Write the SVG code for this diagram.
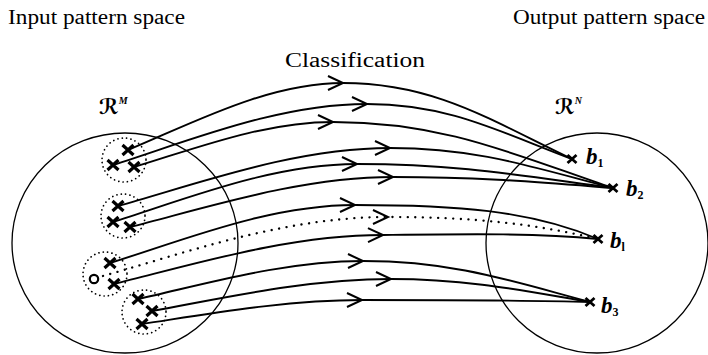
<svg xmlns="http://www.w3.org/2000/svg" xmlns:xlink="http://www.w3.org/1999/xlink" width="708" height="355" viewBox="0 0 708 355">
<defs>
<style>
.lbl{font-family:"Liberation Serif","Times New Roman",serif;font-size:20px;fill:#000}
.space{fill:none;stroke:#000;stroke-width:1.3}
.cluster{fill:none;stroke:#000;stroke-width:1.7;stroke-dasharray:0.1 4.3;stroke-linecap:round}
.conn{fill:none;stroke:#000;stroke-width:1.9;marker-mid:url(#chev)}
.dotted{stroke-dasharray:0.1 7.5;stroke-width:2.3;stroke-linecap:round}
.star{fill:none;stroke:#000;stroke-width:3.2}
.tgt{fill:none;stroke:#000;stroke-width:2.8}
.bl{font-family:"Liberation Serif","Times New Roman",serif;font-weight:bold;font-style:italic;font-size:23px;fill:#000}
.sub{font-size:12px;font-style:normal}
.scr{font-family:"DejaVu Serif","DejaVu Sans",serif;font-size:21px;font-weight:bold;fill:#000}
.sup{font-family:"Liberation Serif",serif;font-size:10px;font-weight:bold;font-style:italic}
</style>
<marker id="chev" markerUnits="userSpaceOnUse" viewBox="-17 -9 19 18" markerWidth="19" markerHeight="18" refX="0" refY="0" orient="auto" overflow="visible">
<path d="M-15,-7 L0,0 L-15,7" fill="none" stroke="#000" stroke-width="2"/>
</marker>
<path id="x" d="M-5.5,-5 L5.5,5 M-5.5,5 L5.5,-5"/>
<path id="t" d="M-4.5,-4 L4.5,4 M-4.5,4 L4.5,-4"/>
</defs>

<g id="titles">
<text class="lbl" x="8" y="24" textLength="177" lengthAdjust="spacingAndGlyphs">Input pattern space</text>
<text class="lbl" x="513" y="24" textLength="192" lengthAdjust="spacingAndGlyphs">Output pattern space</text>
<text class="lbl" x="285" y="67" textLength="140" lengthAdjust="spacingAndGlyphs">Classification</text>
</g>

<g id="input-space">
<ellipse class="space" cx="125" cy="243" rx="113" ry="110"/>
<text class="scr" x="99" y="114">ℛ<tspan class="sup" dy="-10">M</tspan></text>
</g>

<g id="output-space">
<ellipse class="space" cx="597" cy="243" rx="111" ry="110"/>
<text class="scr" x="555" y="114">ℛ<tspan class="sup" dy="-10">N</tspan></text>
</g>

<g id="cluster-1">
<circle class="cluster" cx="124" cy="160" r="22"/>
<use xlink:href="#x" class="star" x="128" y="150"/>
<use xlink:href="#x" class="star" x="113" y="165"/>
<use xlink:href="#x" class="star" x="134" y="167"/>
</g>
<g id="cluster-2">
<circle class="cluster" cx="123" cy="216" r="22"/>
<use xlink:href="#x" class="star" x="118" y="206"/>
<use xlink:href="#x" class="star" x="113" y="222"/>
<use xlink:href="#x" class="star" x="130" y="227"/>
</g>
<g id="cluster-3">
<circle class="cluster" cx="105" cy="274" r="22"/>
<use xlink:href="#x" class="star" x="110" y="263"/>
<circle cx="94" cy="279" r="4.2" fill="none" stroke="#000" stroke-width="2.2"/>
<use xlink:href="#x" class="star" x="114" y="284"/>
</g>
<g id="cluster-4">
<circle class="cluster" cx="144" cy="312" r="22"/>
<use xlink:href="#x" class="star" x="138" y="299"/>
<use xlink:href="#x" class="star" x="152" y="311"/>
<use xlink:href="#x" class="star" x="142" y="324"/>
</g>

<g id="connectors">
<path class="conn" d="M128,150 C193,123 268,83 343,83 C435,83 492,121 572,159"/>
<path class="conn" d="M113,165 C189,141 278,104 367,104 C449,104 500,132 572,159"/>
<path class="conn" d="M134,167 C194,149 263,122 333,122 C445,122 515,155 613,188"/>
<path class="conn" d="M118,206 C200,183 295,148 390,148 C479,148 535,168 613,188"/>
<path class="conn" d="M113,222 C186,199 272,164 357,164 C459,164 523,176 613,188"/>
<path class="conn" d="M130,227 C209,207 301,177 393,177 C481,177 536,182 613,188"/>
<path class="conn" d="M110,263 C184,240 269,205 355,205 C455,205 530,210 598,239"/>
<path class="conn dotted" d="M103,276 C188,252 285,217 388,217 C475,217 535,224 598,239"/>
<path class="conn" d="M114,284 C195,264 289,235 383,235 C470,234 535,233 598,239"/>
<path class="conn" d="M138,299 C206,284 284,261 363,261 C454,261 511,281 590,302"/>
<path class="conn" d="M152,311 C224,298 307,279 391,279 C471,279 530,292 590,302"/>
<path class="conn" d="M142,324 C208,314 285,300 362,300 C453,300 522,300 590,302"/>
</g>

<g id="b1">
<use xlink:href="#t" class="tgt" x="572" y="159"/>
<text class="bl" x="586" y="164">b<tspan class="sub" dy="3">1</tspan></text>
</g>
<g id="b2">
<use xlink:href="#t" class="tgt" x="613" y="188"/>
<text class="bl" x="626" y="196">b<tspan class="sub" dy="3">2</tspan></text>
</g>
<g id="bl">
<use xlink:href="#t" class="tgt" x="598" y="239"/>
<text class="bl" x="610" y="248">b<tspan class="sub" dy="3" font-style="italic">l</tspan></text>
</g>
<g id="b3">
<use xlink:href="#t" class="tgt" x="590" y="302"/>
<text class="bl" x="601" y="313">b<tspan class="sub" dy="3">3</tspan></text>
</g>
</svg>
